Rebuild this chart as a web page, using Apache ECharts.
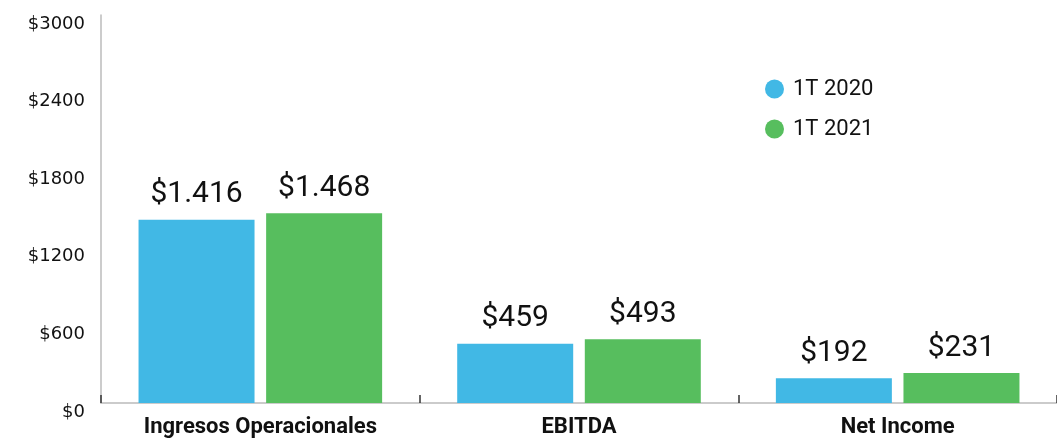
<!DOCTYPE html>
<html>
<head>
<meta charset="utf-8">
<script src="https://cdn.jsdelivr.net/npm/echarts@6/dist/echarts.min.js"></script>
<style>html,body{margin:0;padding:0;background:#fff}#c{width:1057px;height:440px}</style>
</head>
<body>
<div id="c"></div>
<script>
const categories = ['Ingresos Operacionales', 'EBITDA', 'Net Income'];
const series2020 = [1416, 459, 192];
const series2021 = [1468, 493, 231];
const seriesNames = ['1T 2020', '1T 2021'];
const yTicks = [0, 600, 1200, 1800, 2400, 3000];

function fmtLabel(v) {
  return '$' + (v >= 1000 ? (v / 1000).toFixed(3) : String(v));
}

const chart = echarts.init(document.getElementById('c'));
chart.setOption({
  animation: false,
  grid: { left: 101, right: -1, top: 15, bottom: 37, containLabel: false },
  legend: {
    orient: 'vertical',
    left: 765,
    top: 78,
    padding: 0,
    icon: 'circle',
    itemWidth: 19,
    itemHeight: 19,
    itemGap: 18,
    textStyle: { fontFamily: 'Roboto', fontSize: 22, color: '#111', padding: [0, 0, 0, 4] },
    data: seriesNames
  },
  xAxis: {
    type: 'category',
    data: categories,
    axisLine: { lineStyle: { color: '#bbbbbb', width: 1.5 } },
    axisTick: { show: true, inside: true, length: 8, lineStyle: { color: '#333', width: 1.5 } },
    axisLabel: { fontFamily: 'Roboto', fontWeight: 'bold', fontSize: 22, color: '#111', margin: 13 }
  },
  yAxis: {
    type: 'value',
    min: yTicks[0],
    max: yTicks[yTicks.length - 1],
    interval: 600,
    splitLine: { show: false },
    axisTick: { show: false },
    axisLine: { show: true, lineStyle: { color: '#bbbbbb', width: 1.5 } },
    axisLabel: {
      fontFamily: 'DejaVu Sans', fontSize: 18, color: '#111', margin: 16,
      verticalAlign: 'top',
      formatter: v => '$' + v
    }
  },
  series: [
    {
      name: seriesNames[0], type: 'bar', data: series2020,
      barWidth: '36.4%', barGap: '10%',
      itemStyle: { color: '#41b8e5' },
      label: { show: true, position: 'top', distance: 10, fontFamily: 'Roboto', fontSize: 30, color: '#111', formatter: p => fmtLabel(p.value) }
    },
    {
      name: seriesNames[1], type: 'bar', data: series2021,
      barWidth: '36.4%', barGap: '10%',
      itemStyle: { color: '#57be5e' },
      label: { show: true, position: 'top', distance: 10, fontFamily: 'Roboto', fontSize: 30, color: '#111', formatter: p => fmtLabel(p.value) }
    }
  ]
});
</script>
</body>
</html>
